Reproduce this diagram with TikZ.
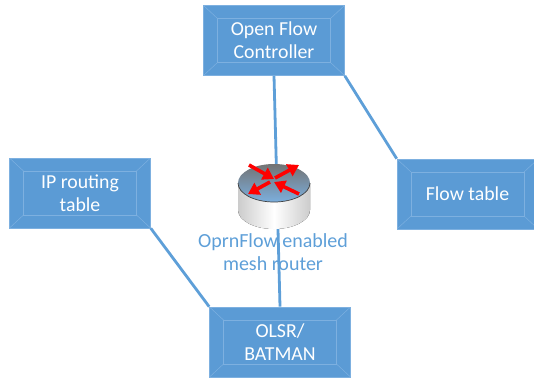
\documentclass[tikz,border=0pt]{standalone}
\usepackage{fontspec}
\setmainfont{Carlito}
\usetikzlibrary{arrows.meta}
\definecolor{boxblue}{HTML}{5B9BD5}
\definecolor{boxedge}{HTML}{7DB0E0}
\definecolor{linkblue}{HTML}{5E9FD8}
\tikzset{
  bevelbox/.style={fill=boxblue, draw=boxedge, line width=0.6pt, text=white, align=center,
    minimum width=141pt, minimum height=70pt, inner sep=0pt, font=\fontsize{19.8}{23}\selectfont,
    path picture={
      \draw[boxedge, line width=0.5pt] ([shift={(14pt,-13pt)}]path picture bounding box.north west) rectangle ([shift={(-14pt,13pt)}]path picture bounding box.south east);
      \draw[boxedge, line width=0.5pt] (path picture bounding box.north west) -- ++(14pt,-13pt);
      \draw[boxedge, line width=0.5pt] (path picture bounding box.north east) -- ++(-14pt,-13pt);
      \draw[boxedge, line width=0.5pt] (path picture bounding box.south west) -- ++(14pt,13pt);
      \draw[boxedge, line width=0.5pt] (path picture bounding box.south east) -- ++(-14pt,13pt);
    }},
  link/.style={linkblue, line width=2.8pt},
  flowarrow/.style={red, line width=3.6pt, -{Triangle[length=11pt,width=13pt]}}
}
\begin{document}
\begin{tikzpicture}[x=1pt,y=-1pt]
      \useasboundingbox (0,0) rectangle (534,377);

      \node[bevelbox] (controller) at (274,40.5) {Open Flow\\Controller};
      \node[bevelbox] (iptable) at (80,193) {IP routing\\table};
      \node[bevelbox] (flowtable) at (467.5,194) {Flow table};
      \node[bevelbox] (olsr) at (280,342) {OLSR/\\BATMAN};
      \node (router) at (277,191) [minimum size=60pt] {};
      \node[text=linkblue, align=center, font=\fontsize{20}{23.5}\selectfont] (routerlabel) at (273,252) {OprnFlow enabled\\mesh router};

      \draw[link] (controller.south) -- (router.center);
      \draw[link] (router.center) -- (olsr.north);
      \draw[link] (controller.south east) -- (flowtable.north west);
      \draw[link] (iptable.south east) -- (olsr.north west);

      % router body
      \fill[left color=gray!40, right color=gray!40, middle color=white] (238,183) -- (238,210) arc[start angle=180, end angle=0, x radius=36, y radius=19] -- (310,183) -- cycle;
      \shade[top color=gray!90!black, bottom color=boxblue!80] (274,183) ellipse[x radius=36, y radius=19];
      \draw[black!75, line width=0.7pt] (238,183) arc[start angle=180, end angle=0, x radius=36, y radius=19];
      \draw[flowarrow] (249,165) -- (274,179);
      \draw[flowarrow] (275,178) -- (299,165);
      \draw[flowarrow] (270,182) -- (248,194);
      \draw[flowarrow] (299,194) -- (274,182);
\end{tikzpicture}
\end{document}
